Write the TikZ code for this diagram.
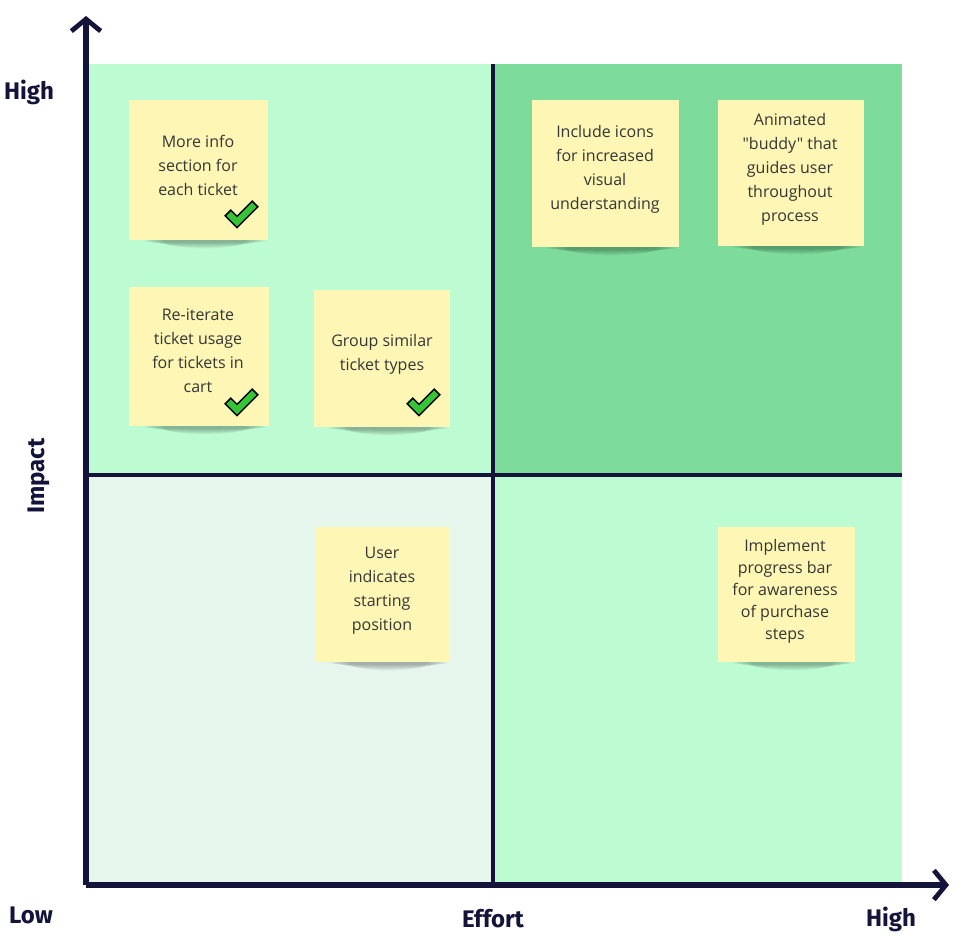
\documentclass[tikz,border=0pt]{standalone}
\usepackage{fontspec}
\setmainfont{Open Sans}[Ligatures=TeXOff]
\newfontfamily\axisfont{Fira Sans}
\usetikzlibrary{arrows.meta}

\definecolor{axisnavy}{HTML}{14133A}
\definecolor{quadlight}{HTML}{BDFCD3}
\definecolor{quaddark}{HTML}{7DDC9C}
\definecolor{quadpale}{HTML}{E6F6EC}
\definecolor{noteyellow}{HTML}{FDF6B4}
\definecolor{notetextgray}{HTML}{363636}
\definecolor{tickgreen}{HTML}{35C435}

\tikzset{
  axisline/.style={draw=axisnavy, line width=3.8pt,
    -{Straight Barb[length=9pt, width=22pt, line width=3.6pt]}},
  divider/.style={draw=axisnavy, line width=3pt},
  axislabel/.style={text=axisnavy, font=\axisfont\bfseries\fontsize{18pt}{20pt}\selectfont, inner sep=0pt},
  stickynote/.style={rectangle, fill=noteyellow, draw=none, inner sep=0pt},
  notetext/.style={text=notetextgray, align=center, inner sep=0pt,
    font=\fontsize{12pt}{18pt}\selectfont},
  donetick/.pic={
    \draw[fill=tickgreen, draw=black, line width=1.1pt, line join=miter]
      (-11.2,-5.8) -- (-5,0.3) -- (10.2,-14.8) -- (15.8,-9.2)
      -- (-5,11.7) -- (-16.8,-0.2) -- cycle;
  }
}

% sticky note with a soft shadow under its lower edge
\newcommand\notecard[5]{%
  \foreach \k in {1,...,8}{%
    \fill[black, opacity=0.04] ({#2+6},{#3+#5/2+1}) ellipse ({#4*0.47-\k*3} and {1+\k*0.8});
  }%
  \node[stickynote, minimum width=#4*0.75pt, minimum height=#5*0.75pt] (#1) at (#2,#3) {};%
}

\begin{document}
\begin{tikzpicture}[x=0.75pt, y=-0.75pt]
  \useasboundingbox (0,0) rectangle (967,935);
  \fill[white] (0,0) rectangle (967,935);

  % quadrants
  \fill[quadlight] (86,64) rectangle (493,475);
  \fill[quaddark]  (493,64) rectangle (902,475);
  \fill[quadpale]  (86,475) rectangle (493,885);
  \fill[quadlight] (493,475) rectangle (902,885);

  % axes and dividers
  \coordinate (origin) at (86,885);
  \coordinate (ytip) at (86,16);
  \coordinate (xtip) at (949,885);
  \coordinate (vtop) at (493,64);
  \coordinate (vbot) at (493,885);
  \coordinate (hleft) at (86,475);
  \coordinate (hright) at (902,475);
  \draw[divider] (vtop) -- (vbot);
  \draw[divider] (hleft) -- (hright);
  \draw[axisline] (origin) -- (ytip);
  \draw[axisline] (origin) -- (xtip);

  % axis labels
  \node[axislabel] (yhigh) at (29,92) {High};
  \node[axislabel] (ylow) at (31,915) {Low};
  \node[axislabel] (effort) at (493,919) {Effort};
  \node[axislabel] (xhigh) at (891,919) {High};
  \node[axislabel, rotate=90] (impact) at (39,476) {Impact};

  % sticky notes
  \notecard{n1}{198.5}{170}{139}{140}
  \notecard{n2}{199}{356.5}{140}{139}
  \notecard{n3}{382}{358.5}{136}{137}
  \notecard{n4}{605.5}{173.5}{147}{147}
  \notecard{n5}{791}{173}{146}{146}
  \notecard{n6}{382.5}{594.5}{135}{135}
  \notecard{n7}{786.5}{594.5}{137}{135}

  \node[notetext] (t1) at (198,165) {More info\\section for\\each ticket};
  \node[notetext] (t2) at (198,351) {Re-iterate\\ticket usage\\for tickets in\\cart};
  \node[notetext] (t3) at (382,354) {Group similar\\ticket types};
  \node[notetext] (t4) at (605,169) {Include icons\\for increased\\visual\\understanding};
  \node[notetext] (t5) at (790,169) {Animated\\"buddy" that\\guides user\\throughout\\process};
  \node[notetext] (t6) at (382,591) {User\\indicates\\starting\\position};
  \node[notetext, font=\fontsize{12pt}{16.5pt}\selectfont] (t7) at (785,591)
    {Implement\\progress bar\\for awareness\\of purchase\\steps};

  % completed items
  \pic at (242,216) {donetick};
  \pic at (242,404) {donetick};
  \pic at (424,404) {donetick};
\end{tikzpicture}
\end{document}
